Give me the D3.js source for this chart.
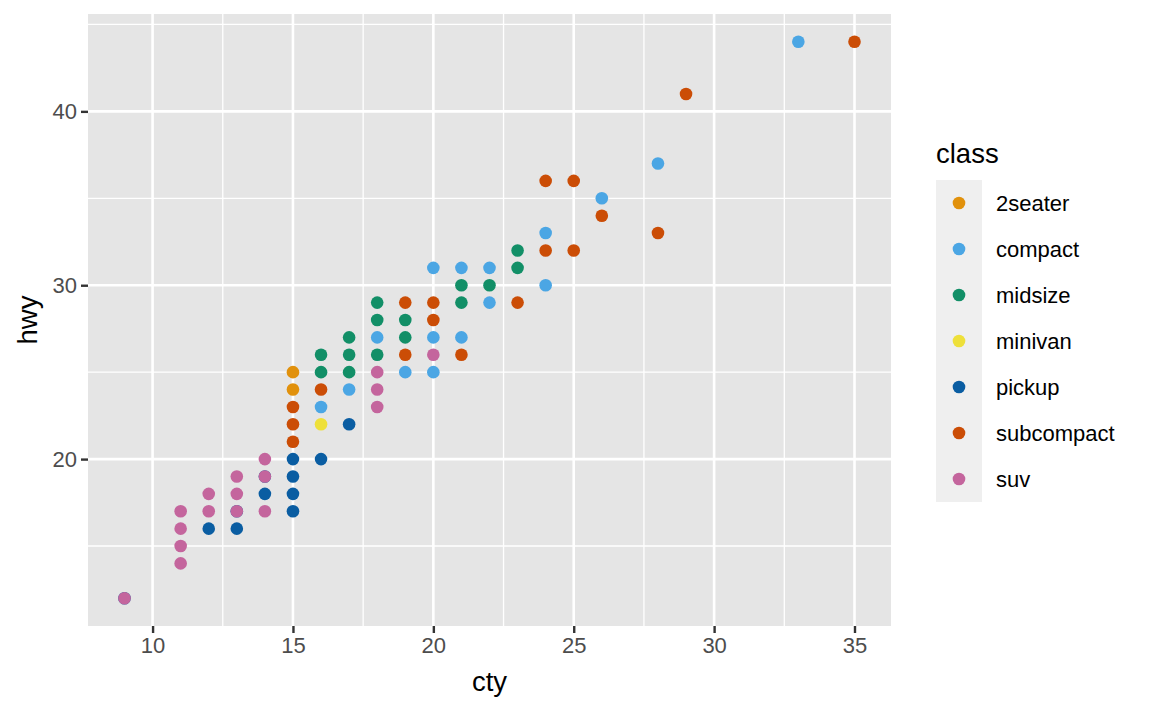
<!DOCTYPE html>
<html>
<head>
<meta charset="utf-8">
<script src="https://cdn.jsdelivr.net/npm/d3@7"></script>
<style>
  html, body { margin: 0; padding: 0; background: #fff; }
  svg { display: block; font-family: "Liberation Sans", Arial, sans-serif; }
</style>
</head>
<body>
<div id="chart"></div>
<script>
// ── Data (mpg: cty vs hwy, coloured by class) ───────────────────────────────
const classes = ['2seater', 'compact', 'midsize', 'minivan', 'pickup', 'subcompact', 'suv'];
const classColors = ['#E1910C', '#4BA6E4', '#128F67', '#EEE03A', '#0A5DA2', '#CB4D06', '#C4659D'];

const pts2seater = [[15, 25], [15, 24]];
const ptsCompact = [[16, 23], [17, 24], [18, 27], [19, 25], [20, 25], [20, 27], [20, 31], [21, 27],
  [21, 31], [22, 29], [22, 31], [24, 30], [24, 33], [26, 35], [28, 37], [33, 44]];
const ptsMidsize = [[16, 25], [16, 26], [17, 25], [17, 26], [17, 27], [18, 26], [18, 28], [18, 29],
  [19, 27], [19, 28], [21, 29], [21, 30], [22, 30], [23, 31], [23, 32]];
const ptsMinivan = [[16, 22]];
const ptsPickup = [[9, 12], [12, 16], [13, 16], [13, 17], [14, 18], [14, 19], [15, 17], [15, 18],
  [15, 19], [15, 20], [16, 20], [17, 22]];
const ptsSubcompact = [[15, 21], [15, 22], [15, 23], [16, 24], [19, 26], [19, 29], [20, 28], [20, 29],
  [21, 26], [23, 29], [24, 32], [24, 36], [25, 32], [25, 36], [26, 34], [28, 33], [29, 41], [35, 44]];
const ptsSuv = [[9, 12], [11, 14], [11, 15], [11, 16], [11, 17], [12, 17], [12, 18], [13, 17],
  [13, 18], [13, 19], [14, 17], [14, 19], [14, 20], [18, 23], [18, 24], [18, 25], [20, 26]];

// pickup drawn first so the suv points sit on top where they overlap
const drawOrder = [
  ['pickup', ptsPickup], ['2seater', pts2seater], ['compact', ptsCompact], ['midsize', ptsMidsize],
  ['minivan', ptsMinivan], ['subcompact', ptsSubcompact], ['suv', ptsSuv],
];

const xTicks = [10, 15, 20, 25, 30, 35];
const xMinor = [12.5, 17.5, 22.5, 27.5, 32.5];
const yTicks = [20, 30, 40];
const yMinor = [15, 25, 35, 45];

// ── Layout ──────────────────────────────────────────────────────────────────
const W = 1152, H = 711;
const panel = { left: 88, right: 891, top: 14, bottom: 626 };

const svg = d3.select('#chart').append('svg')
  .attr('width', W).attr('height', H)
  .attr('viewBox', `0 0 ${W} ${H}`);

// ggplot-style 5% expansion around the data range
const x = d3.scaleLinear().domain([7.7, 36.3]).range([panel.left, panel.right]);
const y = d3.scaleLinear().domain([10.4, 45.6]).range([panel.bottom, panel.top]);
const color = d3.scaleOrdinal().domain(classes).range(classColors);

svg.append('rect')
  .attr('x', panel.left).attr('y', panel.top)
  .attr('width', panel.right - panel.left).attr('height', panel.bottom - panel.top)
  .attr('fill', '#E5E5E5');

const grid = svg.append('g');
function vLines(vals, w) {
  grid.selectAll(null).data(vals).join('line')
    .attr('x1', (d) => x(d)).attr('x2', (d) => x(d))
    .attr('y1', panel.top).attr('y2', panel.bottom)
    .attr('stroke', '#fff').attr('stroke-width', w);
}
function hLines(vals, w) {
  grid.selectAll(null).data(vals).join('line')
    .attr('y1', (d) => y(d)).attr('y2', (d) => y(d))
    .attr('x1', panel.left).attr('x2', panel.right)
    .attr('stroke', '#fff').attr('stroke-width', w);
}
vLines(xMinor, 1.3);
hLines(yMinor, 1.3);
vLines(xTicks, 2.6);
hLines(yTicks, 2.6);

// Axes
const xAxis = svg.append('g')
  .attr('transform', `translate(0,${panel.bottom})`)
  .call(d3.axisBottom(x).tickValues(xTicks).tickSize(7).tickPadding(4));
const yAxis = svg.append('g')
  .attr('transform', `translate(${panel.left},0)`)
  .call(d3.axisLeft(y).tickValues(yTicks).tickSize(7).tickPadding(4));
[xAxis, yAxis].forEach((ax) => {
  ax.select('.domain').remove();
  ax.selectAll('.tick line').attr('stroke', '#333333').attr('stroke-width', 2.4);
  ax.selectAll('.tick text')
    .attr('fill', '#4D4D4D')
    .attr('font-size', 22)
    .attr('font-family', '"Liberation Sans", Arial, sans-serif');
});

svg.append('text')
  .attr('x', (panel.left + panel.right) / 2).attr('y', 691)
  .attr('text-anchor', 'middle').attr('font-size', 27.5)
  .text('cty');
svg.append('text')
  .attr('transform', `translate(37,${(panel.top + panel.bottom) / 2}) rotate(-90)`)
  .attr('text-anchor', 'middle').attr('font-size', 27.5)
  .text('hwy');

// Points
const pts = svg.append('g');
drawOrder.forEach(([cls, arr]) => {
  pts.selectAll(null).data(arr).join('circle')
    .attr('cx', (d) => x(d[0]))
    .attr('cy', (d) => y(d[1]))
    .attr('r', 6.3)
    .attr('fill', color(cls));
});

// Legend
const legend = svg.append('g').attr('transform', 'translate(936,0)');
legend.append('text').attr('x', 0).attr('y', 163).attr('font-size', 27.5).text('class');
const keyH = 46;
legend.append('rect')
  .attr('x', 0).attr('y', 180)
  .attr('width', 46).attr('height', keyH * classes.length)
  .attr('fill', '#EFEFEF');
const keys = legend.selectAll('.key').data(classes).join('g')
  .attr('class', 'key')
  .attr('transform', (d, i) => `translate(0,${180 + i * keyH})`);
keys.append('circle')
  .attr('cx', 23).attr('cy', keyH / 2).attr('r', 6.3)
  .attr('fill', (d) => color(d));
keys.append('text')
  .attr('x', 60).attr('y', keyH / 2).attr('dy', '0.36em')
  .attr('font-size', 22)
  .text((d) => d);
</script>
</body>
</html>
